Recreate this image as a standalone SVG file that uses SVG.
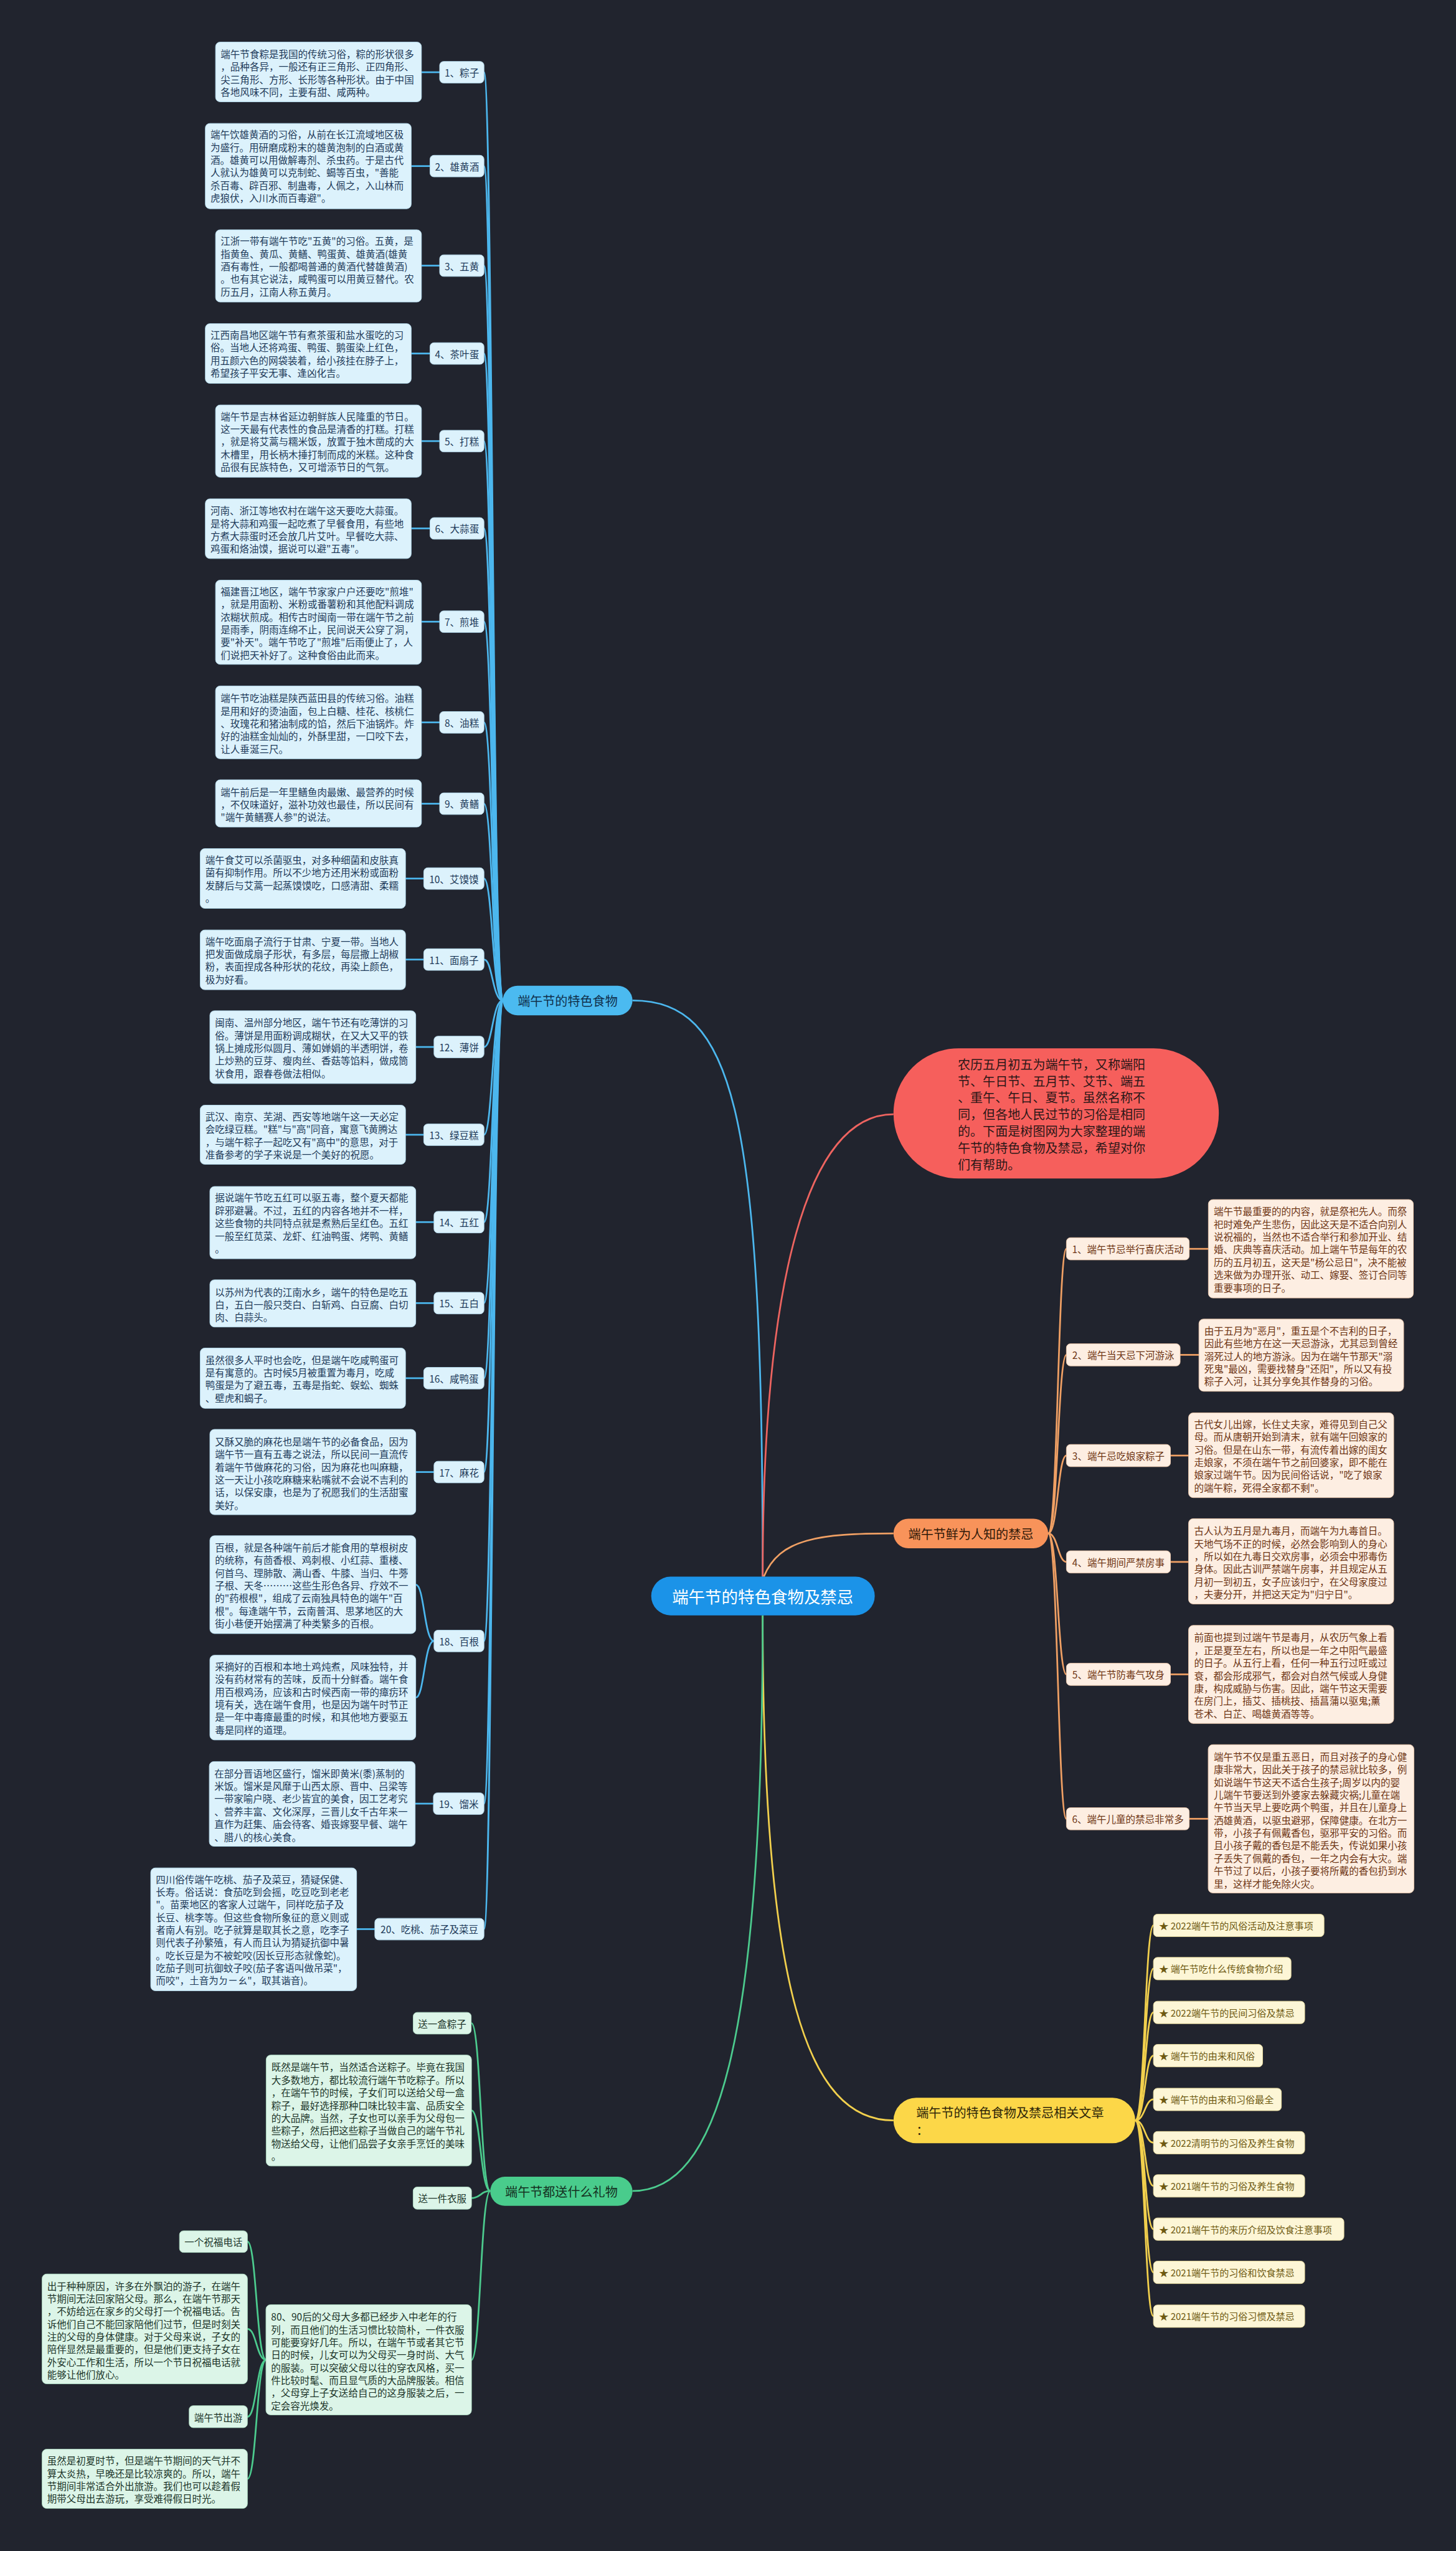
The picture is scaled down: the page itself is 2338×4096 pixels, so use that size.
<svg xmlns="http://www.w3.org/2000/svg" width="2338" height="4096" viewBox="0 0 2338 4096">
<style>
.t{font-family:"Noto Sans CJK SC","Noto Sans",sans-serif;font-size:17px;dominant-baseline:central}
.m{text-anchor:middle}
.bx{fill:#dcf2fc;stroke:#b5dcef;stroke-width:1}
.bt{fill:#1f3b5a}
.ob{fill:#fdeee2;stroke:#efc9ad;stroke-width:1}
.ot{fill:#6e3514}
.gb{fill:#dcf5e8;stroke:#b4e2c9;stroke-width:1}
.gt{fill:#20352a}
.yb{fill:#fdf6d6;stroke:#eadc9c;stroke-width:1}
.yt{fill:#6e5a12;font-size:16.5px}
.big{font-size:22px}
.c{fill:none;stroke-width:3}
.cb{stroke:#4cb7ee}.co{stroke:#f0a064}.cg{stroke:#4ccb8e}.cy{stroke:#f2d04d}.cr{stroke:#ee6460}
</style>
<rect width="2338" height="4096" fill="#21242e"/>
<g transform="scale(0.91328)">
<g id="connectors">
<path class="c cb" d="M1112,1759 C1290,1759 1341,1950 1341,2772"/>
<path class="c cr" d="M1341,2772 C1341,2250 1420,1959 1571,1959"/>
<path class="c co" d="M1343,2772 C1370,2705 1440,2696 1571,2696"/>
<path class="c cy" d="M1341,2840 C1341,3500 1420,3728 1571,3728"/>
<path class="c cg" d="M1341,2840 C1341,3600 1260,3852 1112,3852"/>
<g class="c cb">
<path d="M884,1759 C866,1759 866,127 851,127"/>
<path d="M884,1759 C866,1759 866,292 851,292"/>
<path d="M884,1759 C866,1759 866,467 851,467"/>
<path d="M884,1759 C866,1759 866,621.5 851,621.5"/>
<path d="M884,1759 C866,1759 866,775.5 851,775.5"/>
<path d="M884,1759 C866,1759 866,929 851,929"/>
<path d="M884,1759 C866,1759 866,1093 851,1093"/>
<path d="M884,1759 C866,1759 866,1270 851,1270"/>
<path d="M884,1759 C866,1759 866,1413 851,1413"/>
<path d="M884,1759 C866,1759 866,1544.6 851,1544.6"/>
<path d="M884,1759 C866,1759 866,1687 851,1687"/>
<path d="M884,1759 C866,1759 866,1840.7 851,1840.7"/>
<path d="M884,1759 C866,1759 866,1995 851,1995"/>
<path d="M884,1759 C866,1759 866,2148.6 851,2148.6"/>
<path d="M884,1759 C866,1759 866,2291 851,2291"/>
<path d="M884,1759 C866,1759 866,2423 851,2423"/>
<path d="M884,1759 C866,1759 866,2588 851,2588"/>
<path d="M884,1759 C866,1759 866,2885 851,2885"/>
<path d="M884,1759 C866,1759 866,3171 851,3171"/>
<path d="M884,1759 C866,1759 866,3391.6 851,3391.6"/>
<path d="M741,127 H773"/><path d="M723,292 H756"/><path d="M741,467 H773"/><path d="M723,621.5 H756"/>
<path d="M741,775.5 H773"/><path d="M723,929 H756"/><path d="M741,1093 H773"/><path d="M741,1270 H773"/>
<path d="M741,1413 H773"/><path d="M713,1544.6 H745"/><path d="M713,1687 H745"/><path d="M731,1840.7 H763"/>
<path d="M713,1995 H745"/><path d="M731,2148.6 H763"/><path d="M731,2291 H763"/><path d="M713,2423 H745"/>
<path d="M731,2588 H763"/><path d="M730,3171 H762"/><path d="M626.5,3391.6 H659"/>
<path d="M763,2885 C746,2885 746,2786 731,2786"/>
<path d="M763,2885 C746,2885 746,2984.5 731,2984.5"/>
</g>
<g class="c co">
<path d="M1843,2696 C1860,2696 1860,2195.6 1875,2195.6"/>
<path d="M1843,2696 C1860,2696 1860,2382 1875,2382"/>
<path d="M1843,2696 C1860,2696 1860,2559 1875,2559"/>
<path d="M1843,2696 C1860,2696 1860,2746 1875,2746"/>
<path d="M1843,2696 C1860,2696 1860,2943.7 1875,2943.7"/>
<path d="M1843,2696 C1860,2696 1860,3197.6 1875,3197.6"/>
<path d="M2091,2195.6 H2124.6"/><path d="M2075,2382 H2108"/><path d="M2057.6,2559 H2089.8"/>
<path d="M2057.6,2746 H2089.8"/><path d="M2057.6,2943.7 H2089.8"/><path d="M2091,3197.6 H2124.3"/>
</g>
<g class="c cy">
<path d="M1996,3728 C2013,3728 2013,3385 2028,3385"/>
<path d="M1996,3728 C2013,3728 2013,3461 2028,3461"/>
<path d="M1996,3728 C2013,3728 2013,3538 2028,3538"/>
<path d="M1996,3728 C2013,3728 2013,3614 2028,3614"/>
<path d="M1996,3728 C2013,3728 2013,3691 2028,3691"/>
<path d="M1996,3728 C2013,3728 2013,3767 2028,3767"/>
<path d="M1996,3728 C2013,3728 2013,3843 2028,3843"/>
<path d="M1996,3728 C2013,3728 2013,3919 2028,3919"/>
<path d="M1996,3728 C2013,3728 2013,3995 2028,3995"/>
<path d="M1996,3728 C2013,3728 2013,4072 2028,4072"/>
</g>
<g class="c cg">
<path d="M862,3852 C845,3852 845,3557 829,3557"/>
<path d="M862,3852 C845,3852 845,3710.5 829,3710.5"/>
<path d="M862,3852 C845,3852 845,3864.5 829,3864.5"/>
<path d="M862,3852 C845,3852 845,4149 829,4149"/>
<path d="M468,4149 C451,4149 451,3941 435,3941"/>
<path d="M468,4149 C451,4149 451,4094.5 435,4094.5"/>
<path d="M468,4149 C451,4149 451,4249 435,4249"/>
<path d="M468,4149 C451,4149 451,4358 435,4358"/>
</g>
</g>

<g id="center">
<rect x="1145" y="2772" width="393" height="68" rx="34" fill="#1b93e8"/>
<text class="t m" x="1341" y="2806" font-size="29" style="font-size:29px" fill="#ffffff">端午节的特色食物及禁忌</text>
</g>

<g id="hub-food">
<rect x="884" y="1733" width="228" height="52" rx="26" fill="#4bbaf0"/>
<text class="t m big" x="998" y="1759" fill="#10304c">端午节的特色食物</text>
</g>

<g id="intro">
<rect x="1571" y="1843" width="572" height="229" rx="114.5" fill="#f65f5c"/>
<g class="t big" fill="#2b1717">
<text x="1684" y="1870.4">农历五月初五为端午节，又称端阳</text>
<text x="1684" y="1899.8">节、午日节、五月节、艾节、端五</text>
<text x="1684" y="1929.2">、重午、午日、夏节。虽然名称不</text>
<text x="1684" y="1958.6">同，但各地人民过节的习俗是相同</text>
<text x="1684" y="1988">的。下面是树图网为大家整理的端</text>
<text x="1684" y="2017.4">午节的特色食物及禁忌，希望对你</text>
<text x="1684" y="2046.8">们有帮助。</text>
</g>
</g>

<g id="hub-taboo">
<rect x="1571" y="2670" width="272" height="52" rx="26" fill="#f8935a"/>
<text class="t m big" x="1707" y="2696" fill="#2e1808">端午节鲜为人知的禁忌</text>
</g>

<g id="hub-articles">
<rect x="1571" y="3688" width="425" height="80" rx="40" fill="#fcd748"/>
<text class="t big" x="1611" y="3713" fill="#2e2608">端午节的特色食物及禁忌相关文章</text>
<text class="t big" x="1611" y="3744" fill="#2e2608">：</text>
</g>

<g id="hub-gift">
<rect x="862" y="3827" width="250" height="51" rx="25.5" fill="#49cc8c"/>
<text class="t m big" x="987" y="3852.5" fill="#14301f">端午节都送什么礼物</text>
</g>

<!-- blue food items -->
<g id="food-1">
<rect class="bx" x="379" y="74" width="362" height="105" rx="8"/>
<g class="t bt"><text x="388" y="94">端午节食粽是我国的传统习俗，粽的形状很多</text><text x="388" y="116.3">，品种各异，一般还有正三角形、正四角形、</text><text x="388" y="138.6">尖三角形、方形、长形等各种形状。由于中国</text><text x="388" y="160.9">各地风味不同，主要有甜、咸两种。</text></g>
<rect class="bx" x="773" y="108" width="78" height="38" rx="7"/><text class="t m bt" x="812" y="127">1、粽子</text>
</g>
<g id="food-2">
<rect class="bx" x="361" y="217" width="362" height="150" rx="8"/>
<g class="t bt"><text x="370" y="235.6">端午饮雄黄酒的习俗，从前在长江流域地区极</text><text x="370" y="257.9">为盛行。用研磨成粉末的雄黄泡制的白酒或黄</text><text x="370" y="280.2">酒。雄黄可以用做解毒剂、杀虫药。于是古代</text><text x="370" y="302.5">人就认为雄黄可以克制蛇、蝎等百虫，"善能</text><text x="370" y="324.8">杀百毒、辟百邪、制蛊毒，人佩之，入山林而</text><text x="370" y="347.1">虎狼伏，入川水而百毒避"。</text></g>
<rect class="bx" x="756" y="273" width="95" height="38" rx="7"/><text class="t m bt" x="803.5" y="292">2、雄黄酒</text>
</g>
<g id="food-3">
<rect class="bx" x="379" y="404" width="362" height="127" rx="8"/>
<g class="t bt"><text x="388" y="423">江浙一带有端午节吃"五黄"的习俗。五黄，是</text><text x="388" y="445.3">指黄鱼、黄瓜、黄鳝、鸭蛋黄、雄黄酒(雄黄</text><text x="388" y="467.6">酒有毒性，一般都喝普通的黄酒代替雄黄酒)</text><text x="388" y="489.9">。也有其它说法，咸鸭蛋可以用黄豆替代。农</text><text x="388" y="512.2">历五月，江南人称五黄月。</text></g>
<rect class="bx" x="773" y="448" width="78" height="38" rx="7"/><text class="t m bt" x="812" y="467">3、五黄</text>
</g>
<g id="food-4">
<rect class="bx" x="361" y="569" width="362" height="105" rx="8"/>
<g class="t bt"><text x="370" y="588">江西南昌地区端午节有煮茶蛋和盐水蛋吃的习</text><text x="370" y="610.3">俗。当地人还将鸡蛋、鸭蛋、鹅蛋染上红色，</text><text x="370" y="632.6">用五颜六色的网袋装着，给小孩挂在脖子上，</text><text x="370" y="654.9">希望孩子平安无事、逢凶化吉。</text></g>
<rect class="bx" x="756" y="602.5" width="95" height="38" rx="7"/><text class="t m bt" x="803.5" y="621.5">4、茶叶蛋</text>
</g>
<g id="food-5">
<rect class="bx" x="379" y="712" width="362" height="127" rx="8"/>
<g class="t bt"><text x="388" y="731">端午节是吉林省延边朝鲜族人民隆重的节日。</text><text x="388" y="753.3">这一天最有代表性的食品是清香的打糕。打糕</text><text x="388" y="775.6">，就是将艾蒿与糯米饭，放置于独木凿成的大</text><text x="388" y="797.9">木槽里，用长柄木捶打制而成的米糕。这种食</text><text x="388" y="820.2">品很有民族特色，又可增添节日的气氛。</text></g>
<rect class="bx" x="773" y="756.5" width="78" height="38" rx="7"/><text class="t m bt" x="812" y="775.5">5、打糕</text>
</g>
<g id="food-6">
<rect class="bx" x="361" y="877" width="362" height="105" rx="8"/>
<g class="t bt"><text x="370" y="897">河南、浙江等地农村在端午这天要吃大蒜蛋。</text><text x="370" y="919.3">是将大蒜和鸡蛋一起吃煮了早餐食用，有些地</text><text x="370" y="941.6">方煮大蒜蛋时还会放几片艾叶。早餐吃大蒜、</text><text x="370" y="963.9">鸡蛋和烙油馍，据说可以避"五毒"。</text></g>
<rect class="bx" x="756" y="910" width="95" height="38" rx="7"/><text class="t m bt" x="803.5" y="929">6、大蒜蛋</text>
</g>
<g id="food-7">
<rect class="bx" x="379" y="1020" width="362" height="148" rx="8"/>
<g class="t bt"><text x="388" y="1039">福建晋江地区，端午节家家户户还要吃"煎堆"</text><text x="388" y="1061.3">，就是用面粉、米粉或番薯粉和其他配料调成</text><text x="388" y="1083.6">浓糊状煎成。相传古时闽南一带在端午节之前</text><text x="388" y="1105.9">是雨季，阴雨连绵不止，民间说天公穿了洞，</text><text x="388" y="1128.2">要"补天"。端午节吃了"煎堆"后雨便止了，人</text><text x="388" y="1150.5">们说把天补好了。这种食俗由此而来。</text></g>
<rect class="bx" x="773" y="1074" width="78" height="38" rx="7"/><text class="t m bt" x="812" y="1093">7、煎堆</text>
</g>
<g id="food-8">
<rect class="bx" x="379" y="1206" width="362" height="128" rx="8"/>
<g class="t bt"><text x="388" y="1226.6">端午节吃油糕是陕西蓝田县的传统习俗。油糕</text><text x="388" y="1248.9">是用和好的烫油面，包上白糖、桂花、核桃仁</text><text x="388" y="1271.2">、玫瑰花和猪油制成的馅，然后下油锅炸。炸</text><text x="388" y="1293.5">好的油糕金灿灿的，外酥里甜，一口咬下去，</text><text x="388" y="1315.8">让人垂涎三尺。</text></g>
<rect class="bx" x="773" y="1251" width="78" height="38" rx="7"/><text class="t m bt" x="812" y="1270">8、油糕</text>
</g>
<g id="food-9">
<rect class="bx" x="379" y="1371" width="362" height="83" rx="8"/>
<g class="t bt"><text x="388" y="1391.4">端午前后是一年里鳝鱼肉最嫩、最营养的时候</text><text x="388" y="1413.7">，不仅味道好，滋补功效也最佳，所以民间有</text><text x="388" y="1436">"端午黄鳝赛人参"的说法。</text></g>
<rect class="bx" x="773" y="1394" width="78" height="38" rx="7"/><text class="t m bt" x="812" y="1413">9、黄鳝</text>
</g>
<g id="food-10">
<rect class="bx" x="352" y="1492" width="361" height="105" rx="8"/>
<g class="t bt"><text x="361" y="1511">端午食艾可以杀菌驱虫，对多种细菌和皮肤真</text><text x="361" y="1533.3">菌有抑制作用。所以不少地方还用米粉或面粉</text><text x="361" y="1555.6">发酵后与艾蒿一起蒸馍馍吃，口感清甜、柔糯</text><text x="361" y="1577.9">。</text></g>
<rect class="bx" x="745" y="1525.6" width="106" height="38" rx="7"/><text class="t m bt" x="798" y="1544.6">10、艾馍馍</text>
</g>
<g id="food-11">
<rect class="bx" x="352" y="1635" width="361" height="105" rx="8"/>
<g class="t bt"><text x="361" y="1654">端午吃面扇子流行于甘肃、宁夏一带。当地人</text><text x="361" y="1676.3">把发面做成扇子形状，有多层，每层撒上胡椒</text><text x="361" y="1698.6">粉，表面捏成各种形状的花纹，再染上颜色，</text><text x="361" y="1720.9">极为好看。</text></g>
<rect class="bx" x="745" y="1668" width="106" height="38" rx="7"/><text class="t m bt" x="798" y="1687">11、面扇子</text>
</g>
<g id="food-12">
<rect class="bx" x="369" y="1777" width="362" height="128" rx="8"/>
<g class="t bt"><text x="378" y="1797">闽南、温州部分地区，端午节还有吃薄饼的习</text><text x="378" y="1819.3">俗。薄饼是用面粉调成糊状，在又大又平的铁</text><text x="378" y="1841.6">锅上摊成形似圆月、薄如婵娟的半透明饼，卷</text><text x="378" y="1863.9">上炒熟的豆芽、瘦肉丝、香菇等馅料，做成筒</text><text x="378" y="1886.2">状食用，跟春卷做法相似。</text></g>
<rect class="bx" x="763" y="1821.7" width="88" height="38" rx="7"/><text class="t m bt" x="807" y="1840.7">12、薄饼</text>
</g>
<g id="food-13">
<rect class="bx" x="352" y="1943" width="361" height="104" rx="8"/>
<g class="t bt"><text x="361" y="1962">武汉、南京、芜湖、西安等地端午这一天必定</text><text x="361" y="1984.3">会吃绿豆糕。"糕"与"高"同音，寓意飞黄腾达</text><text x="361" y="2006.6">，与端午粽子一起吃又有"高中"的意思，对于</text><text x="361" y="2028.9">准备参考的学子来说是一个美好的祝愿。</text></g>
<rect class="bx" x="745" y="1976" width="106" height="38" rx="7"/><text class="t m bt" x="798" y="1995">13、绿豆糕</text>
</g>
<g id="food-14">
<rect class="bx" x="369" y="2086" width="362" height="127" rx="8"/>
<g class="t bt"><text x="378" y="2105">据说端午节吃五红可以驱五毒，整个夏天都能</text><text x="378" y="2127.3">辟邪避暑。不过，五红的内容各地并不一样，</text><text x="378" y="2149.6">这些食物的共同特点就是煮熟后呈红色。五红</text><text x="378" y="2171.9">一般至红苋菜、龙虾、红油鸭蛋、烤鸭、黄鳝</text><text x="378" y="2194.2">。</text></g>
<rect class="bx" x="763" y="2129.6" width="88" height="38" rx="7"/><text class="t m bt" x="807" y="2148.6">14、五红</text>
</g>
<g id="food-15">
<rect class="bx" x="369" y="2250" width="362" height="83" rx="8"/>
<g class="t bt"><text x="378" y="2270.5">以苏州为代表的江南水乡，端午的特色是吃五</text><text x="378" y="2292.8">白，五白一般只茭白、白斩鸡、白豆腐、白切</text><text x="378" y="2315.1">肉、白蒜头。</text></g>
<rect class="bx" x="763" y="2272" width="88" height="38" rx="7"/><text class="t m bt" x="807" y="2291">15、五白</text>
</g>
<g id="food-16">
<rect class="bx" x="352" y="2370" width="361" height="106" rx="8"/>
<g class="t bt"><text x="361" y="2390">虽然很多人平时也会吃，但是端午吃咸鸭蛋可</text><text x="361" y="2412.3">是有寓意的。古时候5月被重置为毒月，吃咸</text><text x="361" y="2434.6">鸭蛋是为了避五毒，五毒是指蛇、蜈蚣、蜘蛛</text><text x="361" y="2456.9">、壁虎和蝎子。</text></g>
<rect class="bx" x="745" y="2404" width="106" height="38" rx="7"/><text class="t m bt" x="798" y="2423">16、咸鸭蛋</text>
</g>
<g id="food-17">
<rect class="bx" x="369" y="2513" width="362" height="150" rx="8"/>
<g class="t bt"><text x="378" y="2533.6">又酥又脆的麻花也是端午节的必备食品，因为</text><text x="378" y="2555.9">端午节一直有五毒之说法，所以民间一直流传</text><text x="378" y="2578.2">着端午节做麻花的习俗，因为麻花也叫麻糖，</text><text x="378" y="2600.5">这一天让小孩吃麻糖来粘嘴就不会说不吉利的</text><text x="378" y="2622.8">话，以保安康，也是为了祝愿我们的生活甜蜜</text><text x="378" y="2645.1">美好。</text></g>
<rect class="bx" x="763" y="2569" width="88" height="38" rx="7"/><text class="t m bt" x="807" y="2588">17、麻花</text>
</g>
<g id="food-18">
<rect class="bx" x="369" y="2700" width="362" height="172" rx="8"/>
<g class="t bt"><text x="378" y="2719.8">百根，就是各种端午前后才能食用的草根树皮</text><text x="378" y="2742.1">的统称，有茴香根、鸡刺根、小红蒜、重楼、</text><text x="378" y="2764.4">何首乌、理肺散、满山香、牛膝、当归、牛蒡</text><text x="378" y="2786.7">子根、天冬………这些生形色各异、疗效不一</text><text x="378" y="2809">的"药根根"，组成了云南独具特色的端午"百</text><text x="378" y="2831.3">根"。每逢端午节，云南普洱、思茅地区的大</text><text x="378" y="2853.6">街小巷便开始摆满了种类繁多的百根。</text></g>
<rect class="bx" x="369" y="2910" width="362" height="149" rx="8"/>
<g class="t bt"><text x="378" y="2929">采摘好的百根和本地土鸡炖煮，风味独特，并</text><text x="378" y="2951.3">没有药材常有的苦味，反而十分鲜香。端午食</text><text x="378" y="2973.6">用百根鸡汤，应该和古时候西南一带的瘴疠环</text><text x="378" y="2995.9">境有关，选在端午食用，也是因为端午时节正</text><text x="378" y="3018.2">是一年中毒瘴最重的时候，和其他地方要驱五</text><text x="378" y="3040.5">毒是同样的道理。</text></g>
<rect class="bx" x="763" y="2866" width="88" height="38" rx="7"/><text class="t m bt" x="807" y="2885">18、百根</text>
</g>
<g id="food-19">
<rect class="bx" x="368" y="3097" width="362" height="149" rx="8"/>
<g class="t bt"><text x="377" y="3117">在部分晋语地区盛行，馏米即黄米(黍)蒸制的</text><text x="377" y="3139.3">米饭。馏米是风靡于山西太原、晋中、吕梁等</text><text x="377" y="3161.6">一带家喻户晓、老少皆宜的美食，因工艺考究</text><text x="377" y="3183.9">、营养丰富、文化深厚，三晋儿女千古年来一</text><text x="377" y="3206.2">直作为赶集、庙会待客、婚丧嫁娶早餐、端午</text><text x="377" y="3228.5">、腊八的核心美食。</text></g>
<rect class="bx" x="762" y="3152" width="89" height="38" rx="7"/><text class="t m bt" x="806.5" y="3171">19、馏米</text>
</g>
<g id="food-20">
<rect class="bx" x="265" y="3284" width="362" height="216" rx="8"/>
<g class="t bt"><text x="274" y="3303">四川俗传端午吃桃、茄子及菜豆，猜疑保健、</text><text x="274" y="3325.3">长寿。俗话说：食茄吃到会摇，吃豆吃到老老</text><text x="274" y="3347.6">"。苗栗地区的客家人过端午，同样吃茄子及</text><text x="274" y="3369.9">长豆、桃李等。但这些食物所象征的意义则或</text><text x="274" y="3392.2">者南人有别。吃子就算是取其长之意，吃李子</text><text x="274" y="3414.5">则代表子孙繁殖，有人而且认为猜疑抗御中暑</text><text x="274" y="3436.8">。吃长豆是为不被蛇咬(因长豆形态就像蛇)。</text><text x="274" y="3459.1">吃茄子则可抗御蚊子咬(茄子客语叫做吊菜"，</text><text x="274" y="3481.4">而咬"，土音为ㄉㄧㄠ"，取其谐音)。</text></g>
<rect class="bx" x="659" y="3372.6" width="192" height="38" rx="7"/><text class="t m bt" x="755" y="3391.6">20、吃桃、茄子及菜豆</text>
</g>

<!-- orange taboo items -->
<g id="taboo-1">
<rect class="ob" x="1875" y="2176" width="216" height="39" rx="7"/><text class="t m ot" x="1983" y="2195.6">1、端午节忌举行喜庆活动</text>
<rect class="ob" x="2124.6" y="2109" width="360.4" height="173" rx="8"/>
<g class="t ot"><text x="2134" y="2129">端午节最重要的的内容，就是祭祀先人。而祭</text><text x="2134" y="2151.3">祀时难免产生悲伤，因此这天是不适合向别人</text><text x="2134" y="2173.6">说祝福的，当然也不适合举行和参加开业、结</text><text x="2134" y="2195.9">婚、庆典等喜庆活动。加上端午节是每年的农</text><text x="2134" y="2218.2">历的五月初五，这天是"杨公忌日"，决不能被</text><text x="2134" y="2240.5">选来做为办理开张、动工、嫁娶、签订合同等</text><text x="2134" y="2262.8">重要事项的日子。</text></g>
</g>
<g id="taboo-2">
<rect class="ob" x="1875" y="2362.5" width="200" height="39" rx="7"/><text class="t m ot" x="1975" y="2382">2、端午当天忌下河游泳</text>
<rect class="ob" x="2108" y="2319" width="360" height="127" rx="8"/>
<g class="t ot"><text x="2117.5" y="2338.8">由于五月为"恶月"，重五是个不吉利的日子，</text><text x="2117.5" y="2361.1">因此有些地方在这一天忌游泳，尤其忌到曾经</text><text x="2117.5" y="2383.4">溺死过人的地方游泳。因为在端午节那天"溺</text><text x="2117.5" y="2405.7">死鬼"最凶，需要找替身"还阳"，所以又有投</text><text x="2117.5" y="2428">粽子入河，让其分享免其作替身的习俗。</text></g>
</g>
<g id="taboo-3">
<rect class="ob" x="1875" y="2539.5" width="183" height="39" rx="7"/><text class="t m ot" x="1966.5" y="2559">3、端午忌吃娘家粽子</text>
<rect class="ob" x="2089.8" y="2484" width="360.7" height="149" rx="8"/>
<g class="t ot"><text x="2099.5" y="2503">古代女儿出嫁，长住丈夫家，难得见到自己父</text><text x="2099.5" y="2525.3">母。而从唐朝开始到清末，就有端午回娘家的</text><text x="2099.5" y="2547.6">习俗。但是在山东一带，有流传着出嫁的闺女</text><text x="2099.5" y="2569.9">走娘家，不须在端午节之前回婆家，即不能在</text><text x="2099.5" y="2592.2">娘家过端午节。因为民间俗话说，"吃了娘家</text><text x="2099.5" y="2614.5">的端午粽，死得全家都不剩"。</text></g>
</g>
<g id="taboo-4">
<rect class="ob" x="1875" y="2726.5" width="183" height="39" rx="7"/><text class="t m ot" x="1966.5" y="2746">4、端午期间严禁房事</text>
<rect class="ob" x="2089.8" y="2670" width="360.7" height="150" rx="8"/>
<g class="t ot"><text x="2099.5" y="2690.7">古人认为五月是九毒月，而端午为九毒首日。</text><text x="2099.5" y="2713">天地气场不正的时候，必然会影响到人的身心</text><text x="2099.5" y="2735.3">，所以如在九毒日交欢房事，必须会中邪毒伤</text><text x="2099.5" y="2757.6">身体。因此古训严禁端午房事，并且规定从五</text><text x="2099.5" y="2779.9">月初一到初五，女子应该归宁，在父母家度过</text><text x="2099.5" y="2802.2">，夫妻分开，并把这天定为"归宁日"。</text></g>
</g>
<g id="taboo-5">
<rect class="ob" x="1875" y="2924.2" width="183" height="39" rx="7"/><text class="t m ot" x="1966.5" y="2943.7">5、端午节防毒气攻身</text>
<rect class="ob" x="2089.8" y="2857.6" width="360.7" height="172.4" rx="8"/>
<g class="t ot"><text x="2099.5" y="2878">前面也提到过端午节是毒月，从农历气象上看</text><text x="2099.5" y="2900.3">，正是夏至左右，所以也是一年之中阳气最盛</text><text x="2099.5" y="2922.6">的日子。从五行上看，任何一种五行过旺或过</text><text x="2099.5" y="2944.9">衰，都会形成邪气，都会对自然气候或人身健</text><text x="2099.5" y="2967.2">康，构成威胁与伤害。因此，端午节这天需要</text><text x="2099.5" y="2989.5">在房门上，插艾、插桃技、插菖蒲以驱鬼;薰</text><text x="2099.5" y="3011.8">苍术、白芷、喝雄黄酒等等。</text></g>
</g>
<g id="taboo-6">
<rect class="ob" x="1875" y="3178.1" width="216" height="39" rx="7"/><text class="t m ot" x="1983" y="3197.6">6、端午儿童的禁忌非常多</text>
<rect class="ob" x="2124.3" y="3067.3" width="361.7" height="260.7" rx="8"/>
<g class="t ot"><text x="2134" y="3087.7">端午节不仅是重五恶日，而且对孩子的身心健</text><text x="2134" y="3110">康非常大，因此关于孩子的禁忌就比较多，例</text><text x="2134" y="3132.3">如说端午节这天不适合生孩子;周岁以内的婴</text><text x="2134" y="3154.6">儿端午节要送到外婆家去躲藏灾祸;儿童在端</text><text x="2134" y="3176.9">午节当天早上要吃两个鸭蛋，并且在儿童身上</text><text x="2134" y="3199.2">洒雄黄酒，以驱虫避邪，保障健康。在北方一</text><text x="2134" y="3221.5">带，小孩子有佩戴香包，驱邪平安的习俗。而</text><text x="2134" y="3243.8">且小孩子戴的香包是不能丢失，传说如果小孩</text><text x="2134" y="3266.1">子丢失了佩戴的香包，一年之内会有大灾。端</text><text x="2134" y="3288.4">午节过了以后，小孩子要将所戴的香包扔到水</text><text x="2134" y="3310.7">里，这样才能免除火灾。</text></g>
</g>

<!-- yellow articles -->
<g id="article-1"><rect class="yb" x="2028" y="3365.3" width="300" height="39.5" rx="7"/><text class="t yt" x="2038" y="3385">★ 2022端午节的风俗活动及注意事项</text></g>
<g id="article-2"><rect class="yb" x="2028" y="3441.3" width="242" height="39.5" rx="7"/><text class="t yt" x="2038" y="3461">★ 端午节吃什么传统食物介绍</text></g>
<g id="article-3"><rect class="yb" x="2028" y="3518.3" width="266" height="39.5" rx="7"/><text class="t yt" x="2038" y="3538">★ 2022端午节的民间习俗及禁忌</text></g>
<g id="article-4"><rect class="yb" x="2028" y="3594.3" width="192" height="39.5" rx="7"/><text class="t yt" x="2038" y="3614">★ 端午节的由来和风俗</text></g>
<g id="article-5"><rect class="yb" x="2028" y="3671.3" width="225" height="39.5" rx="7"/><text class="t yt" x="2038" y="3691">★ 端午节的由来和习俗最全</text></g>
<g id="article-6"><rect class="yb" x="2028" y="3747.3" width="266" height="39.5" rx="7"/><text class="t yt" x="2038" y="3767">★ 2022清明节的习俗及养生食物</text></g>
<g id="article-7"><rect class="yb" x="2028" y="3823.3" width="266" height="39.5" rx="7"/><text class="t yt" x="2038" y="3843">★ 2021端午节的习俗及养生食物</text></g>
<g id="article-8"><rect class="yb" x="2028" y="3899.3" width="335" height="39.5" rx="7"/><text class="t yt" x="2038" y="3919">★ 2021端午节的来历介绍及饮食注意事项</text></g>
<g id="article-9"><rect class="yb" x="2028" y="3975.3" width="266" height="39.5" rx="7"/><text class="t yt" x="2038" y="3995">★ 2021端午节的习俗和饮食禁忌</text></g>
<g id="article-10"><rect class="yb" x="2028" y="4052.3" width="266" height="39.5" rx="7"/><text class="t yt" x="2038" y="4072">★ 2021端午节的习俗习惯及禁忌</text></g>

<!-- green gift items -->
<g id="gift-1">
<rect class="gb" x="726.5" y="3538" width="102" height="38" rx="7"/><text class="t m gt" x="777.5" y="3557">送一盒粽子</text>
<rect class="gb" x="468" y="3613" width="361" height="195" rx="8"/>
<g class="t gt"><text x="477" y="3633.6">既然是端午节，当然适合送粽子。毕竟在我国</text><text x="477" y="3655.9">大多数地方，都比较流行端午节吃粽子。所以</text><text x="477" y="3678.2">，在端午节的时候，子女们可以送给父母一盒</text><text x="477" y="3700.5">粽子，最好选择那种口味比较丰富、品质安全</text><text x="477" y="3722.8">的大品牌。当然，子女也可以亲手为父母包一</text><text x="477" y="3745.1">些粽子，然后把这些粽子当做自己的端午节礼</text><text x="477" y="3767.4">物送给父母，让他们品尝子女亲手烹饪的美味</text><text x="477" y="3789.7">。</text></g>
</g>
<g id="gift-2">
<rect class="gb" x="726.4" y="3845" width="102.6" height="39" rx="7"/><text class="t m gt" x="777.7" y="3864.5">送一件衣服</text>
<rect class="gb" x="467.6" y="4052" width="361.4" height="193.6" rx="8"/>
<g class="t gt"><text x="476.6" y="4072.4">80、90后的父母大多都已经步入中老年的行</text><text x="476.6" y="4094.7">列，而且他们的生活习惯比较简朴，一件衣服</text><text x="476.6" y="4117">可能要穿好几年。所以，在端午节或者其它节</text><text x="476.6" y="4139.3">日的时候，儿女可以为父母买一身时尚、大气</text><text x="476.6" y="4161.6">的服装。可以突破父母以往的穿衣风格，买一</text><text x="476.6" y="4183.9">件比较时髦、而且显气质的大品牌服装。相信</text><text x="476.6" y="4206.2">，父母穿上子女送给自己的这身服装之后，一</text><text x="476.6" y="4228.5">定会容光焕发。</text></g>
</g>
<g id="gift-3">
<rect class="gb" x="315.6" y="3922" width="119.4" height="38" rx="7"/><text class="t m gt" x="375.3" y="3941">一个祝福电话</text>
<rect class="gb" x="74" y="3998" width="361" height="193" rx="8"/>
<g class="t gt"><text x="83" y="4018">出于种种原因，许多在外飘泊的游子，在端午</text><text x="83" y="4040.3">节期间无法回家陪父母。那么，在端午节那天</text><text x="83" y="4062.6">，不妨给远在家乡的父母打一个祝福电话。告</text><text x="83" y="4084.9">诉他们自己不能回家陪他们过节，但是时刻关</text><text x="83" y="4107.2">注的父母的身体健康。对于父母来说，子女的</text><text x="83" y="4129.5">陪伴显然是最重要的，但是他们更支持子女在</text><text x="83" y="4151.8">外安心工作和生活，所以一个节日祝福电话就</text><text x="83" y="4174.1">能够让他们放心。</text></g>
</g>
<g id="gift-4">
<rect class="gb" x="332.6" y="4229.5" width="102.4" height="38.5" rx="7"/><text class="t m gt" x="383.8" y="4249">端午节出游</text>
<rect class="gb" x="74" y="4306" width="361" height="104" rx="8"/>
<g class="t gt"><text x="83" y="4325.5">虽然是初夏时节，但是端午节期间的天气并不</text><text x="83" y="4347.8">算太炎热，早晚还是比较凉爽的。所以，端午</text><text x="83" y="4370.1">节期间非常适合外出旅游。我们也可以趁着假</text><text x="83" y="4392.4">期带父母出去游玩，享受难得假日时光。</text></g>
</g>
</g>
</svg>
